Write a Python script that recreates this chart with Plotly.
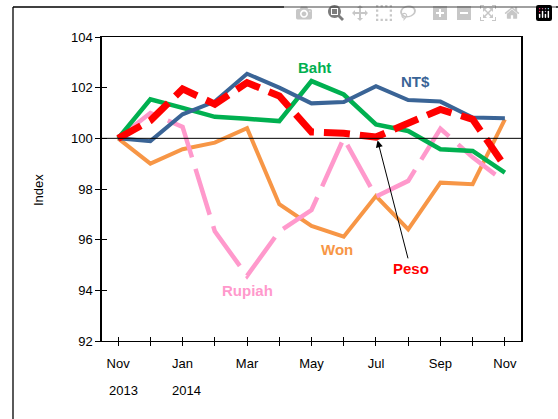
import plotly.graph_objects as go

months = ["Nov", "Dec", "Jan", "Feb", "Mar", "Apr", "May", "Jun", "Jul", "Aug", "Sep", "Oct", "Nov"]
tick_labels = ["Nov", "", "Jan", "", "Mar", "", "May", "", "Jul", "", "Sep", "", "Nov"]
year_labels = ["2013", "2014"]

nt_dollar = [100.0, 99.89, 100.95, 101.45, 102.55, 102.0, 101.38, 101.43, 102.06, 101.51, 101.45, 100.82, 100.79]
baht = [100.0, 101.54, 101.2, 100.85, 100.77, 100.68, 102.26, 101.73, 100.55, 100.29, 99.57, 99.5, 98.65]
peso = [100.0, 100.7, 101.95, 101.35, 102.2, 101.67, 100.25, 100.2, 100.05, 100.6, 101.14, 100.75, 98.9]
won = [100.0, 99.0, 99.57, 99.83, 100.4, 97.4, 96.54, 96.12, 97.72, 96.41, 98.25, 98.19, 100.75]
rupiah = [100.0, 101.0, 100.45, 96.33, 94.57, 96.33, 97.17, 100.0, 97.7, 98.32, 100.38, 99.25, 98.28]

x = list(range(len(months)))
FONT = "Arial, Liberation Sans, sans-serif"

fig = go.Figure()
series = [
    ("Won", won, "#F79646", 4, "solid"),
    ("Rupiah", rupiah, "#FF99CC", 4.5, "48px,12px"),
    ("Baht", baht, "#00B050", 4.5, "solid"),
    ("NT$", nt_dollar, "#3A6496", 4, "solid"),
    ("Peso", peso, "#FF0000", 7, "26px,10px"),
]
for name, vals, col, w, dash in series:
    fig.add_trace(go.Scatter(x=x, y=vals, mode="lines", name=name,
                             line=dict(color=col, width=w, dash=dash),
                             hoverinfo="skip"))

# overlay trace to enable secondary axes for crossing tick marks
fig.add_trace(go.Scatter(x=[x[0]], y=[100], xaxis="x2", yaxis="y2", mode="markers",
                         marker=dict(opacity=0), showlegend=False, hoverinfo="skip"))

fig.update_layout(
    width=558, height=419,
    margin=dict(l=102, r=37, t=37, b=78),
    paper_bgcolor="white", plot_bgcolor="white",
    showlegend=False,
    font=dict(family=FONT, size=13, color="black"),
    xaxis=dict(range=[-0.5, 12.5], tickvals=x, ticktext=tick_labels,
               ticks="outside", ticklen=4, tickcolor="black", tickwidth=1,
               ticklabelstandoff=6,
               showline=True, linecolor="black", linewidth=1, mirror=True,
               showgrid=False, zeroline=False, tickfont=dict(size=13)),
    yaxis=dict(range=[92, 104], tickvals=[92, 94, 96, 98, 100, 102, 104],
               ticks="outside", ticklen=5, tickcolor="black", tickwidth=1,
               showline=True, linecolor="black", linewidth=1.5, mirror=True,
               showgrid=False, zeroline=False, tickfont=dict(size=13)),
    xaxis2=dict(range=[-0.5, 12.5], tickvals=x, ticks="inside", ticklen=4,
                tickcolor="black", showticklabels=False, overlaying="x",
                showgrid=False, zeroline=False, showline=False, side="bottom"),
    yaxis2=dict(range=[92, 104], tickvals=[92, 94, 96, 98, 100, 102, 104],
                ticks="inside", ticklen=5, tickcolor="black", showticklabels=False,
                overlaying="y", showgrid=False, zeroline=False, showline=False, side="left"),
)

# horizontal reference line at 100
fig.add_shape(type="line", xref="paper", yref="y", x0=0, x1=1, y0=100, y1=100,
              line=dict(color="black", width=1), layer="above")

# outer frame of the picture (left and top edges only)
fx = (13 - 102) / 419
fy = (341 - 7) / 304
fxr = (560 - 102) / 419
fig.add_shape(type="line", xref="paper", yref="paper", x0=fx, x1=fx, y0=-0.3, y1=fy,
              line=dict(color="black", width=1.3), layer="above")
fig.add_shape(type="line", xref="paper", yref="paper", x0=fx, x1=fxr, y0=fy, y1=fy,
              line=dict(color="black", width=1.3), layer="above")

def note(text, px, py, size=13, col="black", angle=0):
    fig.add_annotation(text=text, xref="paper", yref="paper",
                       x=(px - 102) / 419, y=(341 - py) / 304,
                       xanchor="center", yanchor="middle", textangle=angle,
                       showarrow=False, font=dict(size=size, color=col))

# axis title
note("Index", 38, 190, angle=-90)

# year labels
note(year_labels[0], 123, 390)
note(year_labels[1], 186, 390)

# series labels
note("<b>Baht</b>", 314, 67, 15, "#00B050")
note("<b>NT$</b>", 415, 81, 15, "#3A6496")
note("<b>Won</b>", 337, 250, 15, "#F79646")
note("<b>Rupiah</b>", 247, 290, 15, "#FF99CC")

fig.add_annotation(text="<b>Peso</b>", x=8.05, y=99.92, xref="x", yref="y",
                   ax=33, ay=128, showarrow=True, arrowhead=2, arrowsize=1.4,
                   arrowwidth=1, arrowcolor="black", font=dict(size=15, color="#FF0000"))

fig.write_html(
    "out.html",
    post_script="document.body.style.margin='0';document.body.style.overflow='hidden';",
)
